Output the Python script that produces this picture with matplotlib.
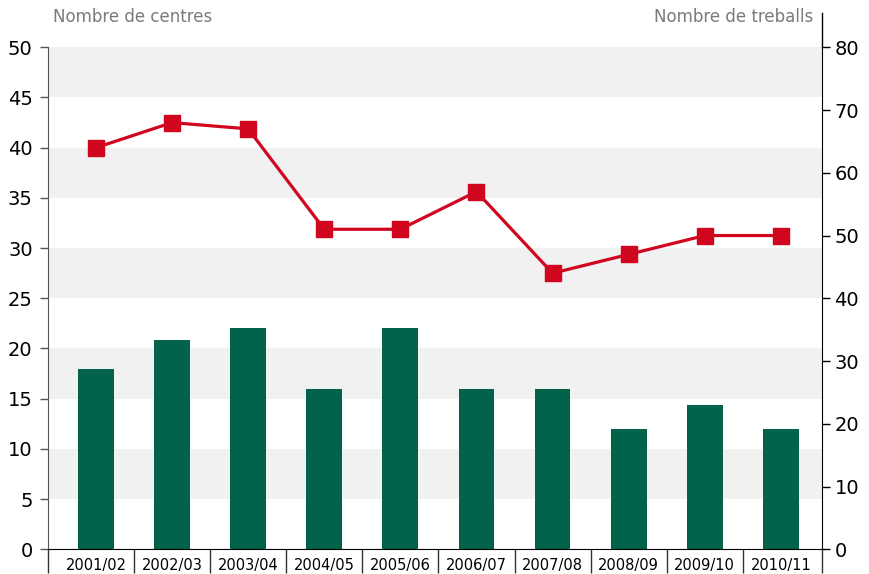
import numpy as np
import matplotlib
matplotlib.use("Agg")
import matplotlib.pyplot as plt

# Academic years
years = ["2001/02", "2002/03", "2003/04", "2004/05", "2005/06",
         "2006/07", "2007/08", "2008/09", "2009/10", "2010/11"]
# Nombre de centres (bars, left axis)
centres = [18, 20.8, 22, 16, 22, 16, 16, 12, 14.4, 12]
# Nombre de treballs (line, right axis)
treballs = [64, 68, 67, 51, 51, 57, 44, 47, 50, 50]

GREEN = "#00634a"
RED = "#d0061f"
BAND = "#f0f1f0"
GREY_TXT = "#7a7a7a"

plt.rcParams["font.family"] = ["DejaVu Sans"]

fig = plt.figure(figsize=(8.69, 5.74), dpi=100)
ax = fig.add_axes([48 / 869, 1 - 549.3 / 574, (822 - 48) / 869, (549.3 - 47.3) / 574])

x = np.arange(len(years))

# alternating horizontal bands
for lo in range(5, 50, 10):
    ax.axhspan(lo, lo + 5, color=BAND, lw=0, zorder=0)

ax.bar(x, centres, width=0.47, color=GREEN, zorder=2)
ax.set_ylim(0, 50)
ax.set_xlim(-0.63, 9.54)
ax.set_yticks(np.arange(0, 51, 5))
ax.tick_params(axis="y", length=6, width=1, color="#555555", pad=5, labelsize=14)

ax.set_xticks(x)
ax.set_xticklabels(years, fontsize=10.5)
ax.tick_params(axis="x", which="major", length=0, pad=6)
ax.set_xticks(list(np.arange(0.5, 9, 1)) + [-0.63, 9.54], minor=True)
ax.tick_params(axis="x", which="minor", length=17, width=1, color="#333333")

for s in ["top", "right"]:
    ax.spines[s].set_visible(False)
ax.spines["left"].set_color("#555555")
ax.spines["bottom"].set_color("black")

ax2 = ax.twinx()
ax2.plot(x, treballs, color=RED, lw=2.3, marker="s", markersize=11.5, zorder=3)
ax2.set_ylim(0, 80)
ax2.set_yticks(np.arange(0, 81, 10))
ax2.tick_params(axis="y", length=6, width=1, color="black", pad=3, labelsize=14)
for s in ["top", "left", "bottom"]:
    ax2.spines[s].set_visible(False)
ax2.spines["right"].set_color("black")
# right axis line runs up past the top band
ax2.plot([1, 1], [1, 1.068], transform=ax2.transAxes, color="black", lw=1, clip_on=False)

fig.text(53 / 869, 1 - 17 / 574, "Nombre de centres", color=GREY_TXT, fontsize=12, va="center", ha="left")
fig.text(813 / 869, 1 - 17 / 574, "Nombre de treballs", color=GREY_TXT, fontsize=12, va="center", ha="right")

fig.savefig("out.png", dpi=100)
